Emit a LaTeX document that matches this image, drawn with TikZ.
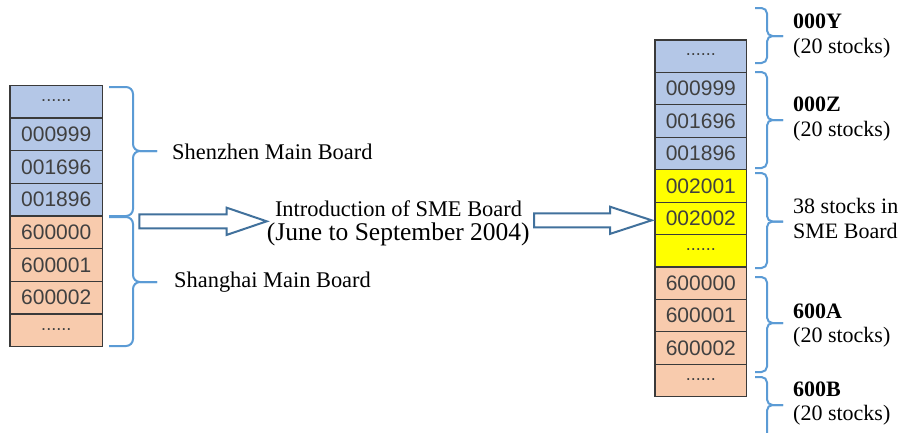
\documentclass[tikz,border=0pt]{standalone}
\usepackage{fontspec}
\setmainfont{Liberation Serif}
\newfontfamily\cellfont{Liberation Sans}
\definecolor{cblue}{HTML}{B4C7E7}
\definecolor{corange}{HTML}{F8CBAD}
\definecolor{cyellow}{HTML}{FFFF00}
\definecolor{cellline}{HTML}{3A3A3A}
\definecolor{celltext}{HTML}{404040}
\definecolor{bracecol}{HTML}{5B9BD5}
\definecolor{arrowcol}{HTML}{41719C}
\newcommand\dotsrow{\raisebox{2.5pt}{\fontsize{18}{18}\selectfont ......}}
\tikzset{
  cellL/.style={draw=cellline, line width=1.1pt, minimum width=92.5pt, minimum height=32.67pt,
    anchor=north west, inner sep=0pt, outer sep=0pt, text=celltext,
    font=\cellfont\fontsize{21}{21}\selectfont},
  cellR/.style={cellL, minimum width=91.7pt, minimum height=32.43pt},
  bracepath/.style={draw=bracecol, line width=2pt, rounded corners=7pt},
  bracepathR/.style={draw=bracecol, line width=2pt, rounded corners=5.5pt},
  blockarrow/.style={draw=arrowcol, line width=2pt, fill=white, line join=miter},
  lab/.style={anchor=base west, inner sep=0pt, font=\fontsize{22.4}{24}\selectfont},
  labc/.style={anchor=base, inner sep=0pt, font=\fontsize{22.4}{24}\selectfont},
  labbig/.style={anchor=base, inner sep=0pt, font=\fontsize{25.5}{27}\selectfont},
  labR/.style={anchor=base west, inner sep=0pt, font=\fontsize{22}{24}\selectfont},
  labRb/.style={labR, font=\fontsize{22}{24}\selectfont\bfseries},
}
\newcommand\mybrace[7]{% style, x0, x1, xtip, ytop, ybot, ytip
  \draw[#1] (#2,#5) -- (#3,#5) -- (#3,#7) -- (#4,#7);
  \draw[#1] (#2,#6) -- (#3,#6) -- (#3,#7) -- (#4,#7);
}
\begin{document}
\begin{tikzpicture}[x=1pt,y=-1pt]
\useasboundingbox[fill=white] (0,0) rectangle (903,432);

% left column
\node[cellL, fill=cblue]   (L1) at (10,85.3)  {\dotsrow};
\node[cellL, fill=cblue]   (L2) at (10,117.97) {000999};
\node[cellL, fill=cblue]   (L3) at (10,150.64) {001696};
\node[cellL, fill=cblue]   (L4) at (10,183.31) {001896};
\node[cellL, fill=corange] (L5) at (10,215.98) {600000};
\node[cellL, fill=corange] (L6) at (10,248.65) {600001};
\node[cellL, fill=corange] (L7) at (10,281.32) {600002};
\node[cellL, fill=corange] (L8) at (10,313.99) {\dotsrow};

% right column
\node[cellR, fill=cblue]   (R1)  at (655,40)     {\dotsrow};
\node[cellR, fill=cblue]   (R2)  at (655,72.43)  {000999};
\node[cellR, fill=cblue]   (R3)  at (655,104.86) {001696};
\node[cellR, fill=cblue]   (R4)  at (655,137.29) {001896};
\node[cellR, fill=cyellow] (R5)  at (655,169.72) {002001};
\node[cellR, fill=cyellow] (R6)  at (655,202.15) {002002};
\node[cellR, fill=cyellow] (R7)  at (655,234.58) {\dotsrow};
\node[cellR, fill=corange] (R8)  at (655,267.01) {600000};
\node[cellR, fill=corange] (R9)  at (655,299.44) {600001};
\node[cellR, fill=corange] (R10) at (655,331.87) {600002};
\node[cellR, fill=corange] (R11) at (655,364.30) {\dotsrow};

% left braces
\mybrace{bracepath}{109}{133}{157}{87}{216}{151}
\mybrace{bracepath}{109}{133}{157}{217}{346}{282}

% right braces
\mybrace{bracepathR}{755}{767}{783}{8}{63}{36}
\mybrace{bracepathR}{755}{767}{783}{72}{168}{120}
\mybrace{bracepathR}{755}{767}{783}{173}{268}{221.5}
\mybrace{bracepathR}{755}{767}{783}{277}{372}{323}
\mybrace{bracepathR}{755}{767}{783}{377}{440}{405}

% block arrows
\coordinate (A1) at (139.3,221.3);
\draw[blockarrow] (A1) ++(0,-7) -- ++(87.4,0) -- ++(0,-6.6) -- ++(40,13.6) -- ++(-40,13.6) -- ++(0,-6.6) -- ++(-87.4,0) -- cycle;
\coordinate (A2) at (534,220.3);
\draw[blockarrow] (A2) ++(0,-7) -- ++(76,0) -- ++(0,-6.6) -- ++(41.7,13.6) -- ++(-41.7,13.6) -- ++(0,-6.6) -- ++(-76,0) -- cycle;

% left labels
\node[lab] (szl) at (172,159) {Shenzhen Main Board};
\node[lab] (shl) at (174,287) {Shanghai Main Board};
\node[labc] (intro) at (398.5,216.7) {Introduction of SME Board};
\node[labbig] (period) at (398.3,240) {(June to September 2004)};

% right labels
\node[labRb] (y1) at (793,28)  {000Y};
\node[labR]  (y2) at (793,53)  {(20 stocks)};
\node[labRb] (z1) at (793,111) {000Z};
\node[labR]  (z2) at (793,136) {(20 stocks)};
\node[labR]  (s1) at (793,213) {38 stocks in};
\node[labR]  (s2) at (793,238) {SME Board};
\node[labRb] (a1) at (793,318) {600A};
\node[labR]  (a2) at (793,342) {(20 stocks)};
\node[labRb] (b1) at (793,396) {600B};
\node[labR]  (b2) at (793,420) {(20 stocks)};
\end{tikzpicture}
\end{document}
